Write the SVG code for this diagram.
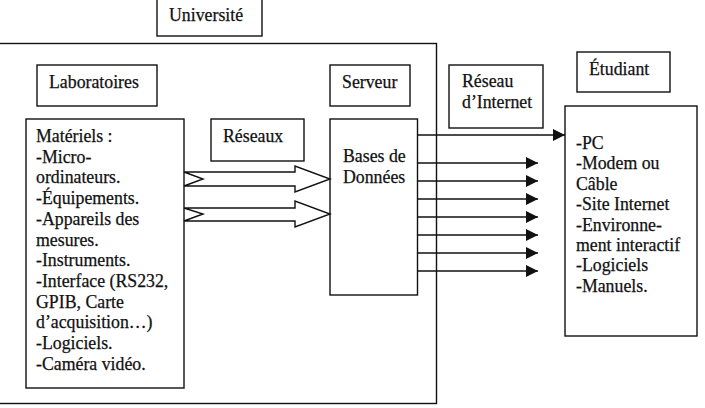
<svg xmlns="http://www.w3.org/2000/svg" width="705" height="408" viewBox="0 0 705 408">
<style>
  .box { fill: #fff; stroke: #111; stroke-width: 1.4; }
  .frame { fill: none; stroke: #111; stroke-width: 1.4; }
  .t { font-family: "Liberation Serif", "Times New Roman", serif; font-size: 17.8px; fill: #111; stroke: #111; stroke-width: 0.25; }
  .line { stroke: #111; stroke-width: 1.4; fill: none; }
  .hollow { fill: #fff; stroke: #111; stroke-width: 1.4; stroke-linejoin: miter; }
</style>
<defs>
  <marker id="ah" markerUnits="userSpaceOnUse" markerWidth="13" markerHeight="12" refX="12" refY="6" orient="auto">
    <path d="M0,0 L12,6 L0,12 z" fill="#111"/>
  </marker>
</defs>
<rect width="705" height="408" fill="#fff"/>

<g id="universite">
  <rect class="frame" x="-2" y="43.5" width="438.5" height="360"/>
  <rect class="box" x="157" y="-2" width="105" height="38"/>
  <text class="t" x="169" y="21">Université</text>
</g>

<g id="laboratoires">
  <rect class="box" x="37" y="65" width="120" height="41"/>
  <text class="t" x="49" y="88">Laboratoires</text>
</g>

<g id="materiels">
  <rect class="box" x="26" y="119" width="158" height="269"/>
  <text class="t">
    <tspan x="36" y="142">Matériels :</tspan>
    <tspan x="36" y="162.7">-Micro-</tspan>
    <tspan x="36" y="183.4">ordinateurs.</tspan>
    <tspan x="36" y="204.1">-Équipements.</tspan>
    <tspan x="36" y="224.8">-Appareils des</tspan>
    <tspan x="36" y="245.5">mesures.</tspan>
    <tspan x="36" y="266.2">-Instruments.</tspan>
    <tspan x="36" y="286.9">-Interface (RS232,</tspan>
    <tspan x="36" y="307.6">GPIB, Carte</tspan>
    <tspan x="36" y="328.3">d’acquisition…)</tspan>
    <tspan x="36" y="349">-Logiciels.</tspan>
    <tspan x="36" y="369.7">-Caméra vidéo.</tspan>
  </text>
</g>

<g id="reseaux">
  <rect class="box" x="211" y="119" width="93" height="42"/>
  <text class="t" x="223" y="142">Réseaux</text>
</g>

<g id="serveur">
  <rect class="box" x="330" y="65" width="80" height="41"/>
  <text class="t" x="342" y="88">Serveur</text>
</g>

<g id="bases">
  <rect class="box" x="330" y="119" width="87.5" height="176"/>
  <text class="t">
    <tspan x="343" y="162">Bases de</tspan>
    <tspan x="343" y="183">Données</tspan>
  </text>
</g>

<g id="reseau-internet">
  <rect class="box" x="449" y="65" width="94" height="63"/>
  <text class="t">
    <tspan x="462" y="87">Réseau</tspan>
    <tspan x="462" y="108">d’Internet</tspan>
  </text>
</g>

<g id="etudiant">
  <rect class="box" x="577" y="52" width="93" height="40"/>
  <text class="t" x="589" y="75">Étudiant</text>
</g>

<g id="etudiant-equipement">
  <rect class="box" x="565" y="106" width="132" height="230"/>
  <text class="t">
    <tspan x="576" y="149">-PC</tspan>
    <tspan x="576" y="169.4">-Modem  ou</tspan>
    <tspan x="576" y="189.8">Câble</tspan>
    <tspan x="576" y="210.2">-Site Internet</tspan>
    <tspan x="576" y="230.6">-Environne-</tspan>
    <tspan x="576" y="251">ment interactif</tspan>
    <tspan x="576" y="271.4">-Logiciels</tspan>
    <tspan x="576" y="291.8">-Manuels.</tspan>
  </text>
</g>

<g id="connectors">
  <polygon class="hollow" points="184,172 295,172 295,166 330,179 295,192 295,186 184,186 203,179"/>
  <polygon class="hollow" points="184,208 295,208 295,201 330,214 295,227 295,221 184,221 203,214"/>
  <line class="line" x1="417.5" y1="135" x2="565" y2="135" marker-end="url(#ah)"/>
  <line class="line" x1="417.5" y1="163" x2="538" y2="163" marker-end="url(#ah)"/>
  <line class="line" x1="417.5" y1="181" x2="538" y2="181" marker-end="url(#ah)"/>
  <line class="line" x1="417.5" y1="199" x2="538" y2="199" marker-end="url(#ah)"/>
  <line class="line" x1="417.5" y1="217" x2="538" y2="217" marker-end="url(#ah)"/>
  <line class="line" x1="417.5" y1="235" x2="538" y2="235" marker-end="url(#ah)"/>
  <line class="line" x1="417.5" y1="253" x2="538" y2="253" marker-end="url(#ah)"/>
  <line class="line" x1="417.5" y1="271" x2="538" y2="271" marker-end="url(#ah)"/>
</g>
</svg>
